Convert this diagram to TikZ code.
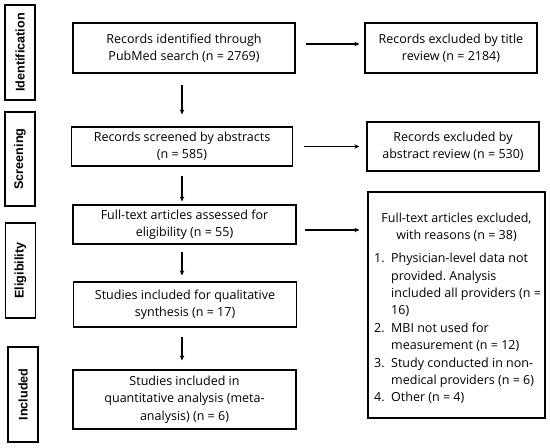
\documentclass[tikz,border=0pt]{standalone}
\usepackage{fontspec}
\setmainfont{Open Sans}
\newfontfamily\sidefont{Liberation Sans}
\usetikzlibrary{arrows.meta,positioning}
\newcommand{\itm}[1]{\makebox[17pt][l]{#1}}
\newcommand{\cont}{\hspace*{17pt}}
\tikzset{
  box/.style={draw, line width=1.2pt, align=center, inner sep=2pt, font=\fontsize{12.5}{17.4}\selectfont},
  txt/.style={inner sep=0pt, font=\fontsize{12.5}{17.4}\selectfont},
  side/.style={draw, line width=1.2pt, rotate=90, inner sep=0pt, minimum height=30pt, font=\sidefont\bfseries\fontsize{12.6}{14}\selectfont},
  arr/.style={-{Stealth[length=5pt,width=4.5pt]}, line width=1.1pt}
}
\begin{document}
\frenchspacing
\begin{tikzpicture}[x=1pt,y=-1pt]
\useasboundingbox (0,0) rectangle (550,448);
% side labels
\node[side, minimum width=95pt] (sid) at (20,52.5) {Identification};
\node[side, minimum width=94pt] (sscr) at (20,159) {Screening};
\node[side, minimum width=95pt] (selg) at (20.5,270.5) {Eligibility};
\node[side, minimum width=95pt] (sinc) at (23,394.5) {Included};
% main boxes
\node[box, minimum width=222pt, minimum height=50pt] (b1) at (184,48) {Records identified through\\PubMed search (n = 2769)};
\node[box, minimum width=221pt, minimum height=39pt] (b2) at (182,146.5) {Records screened by abstracts\\(n = 585)};
\node[box, minimum width=223pt, minimum height=39pt] (b3) at (184.5,224.5) {Full-text articles assessed for\\eligibility (n = 55)};
\node[box, minimum width=223pt, minimum height=45pt] (b4) at (185,304.5) {Studies included for qualitative\\synthesis (n = 17)};
\node[box, minimum width=223pt, minimum height=59pt] (b5) at (184.5,399.5) {Studies included in\\quantitative analysis (meta-\\analysis) (n = 6)};
% right boxes
\node[box, minimum width=172pt, minimum height=50pt] (r1) at (451,48) {Records excluded by title\\review (n = 2184)};
\node[box, minimum width=172pt, minimum height=49pt] (r2) at (453,146.5) {Records excluded by\\abstract review (n = 530)};
\node[draw, line width=1.2pt, minimum width=177pt, minimum height=226pt, inner sep=0pt] (r3) at (456.5,305) {};
\node[txt, align=center] (r3h) at (456.5,227.5) {Full-text articles excluded,\\with reasons (n = 38)};
\node[txt, align=left, anchor=west] (r3l) at (374,328.5) {%
\itm{1.}Physician-level data not\\
\cont provided. Analysis\\
\cont included all providers (n =\\
\cont 16)\\
\itm{2.}MBI not used for\\
\cont measurement (n = 12)\\
\itm{3.}Study conducted in non-\\
\cont medical providers (n = 6)\\
\itm{4.}Other (n = 4)};
% vertical arrows
\draw[arr, shorten <=11pt, shorten >=12pt] ([xshift=-2pt]b1.south) -- ([xshift=-2pt]b1.south |- b2.north);
\draw[arr, shorten <=9pt, shorten >=3pt] ([xshift=0pt]b2.south) -- ([xshift=0pt]b2.south |- b3.north);
\draw[arr, shorten <=7pt, shorten >=6pt] ([xshift=-2.5pt]b3.south) -- ([xshift=-2.5pt]b3.south |- b4.north);
\draw[arr, shorten <=9pt, shorten >=9pt] ([xshift=-3pt]b4.south) -- ([xshift=-3pt]b4.south |- b5.north);
% horizontal arrows
\draw[arr, shorten <=10pt, shorten >=5pt] ([yshift=4pt]b1.east) -- ([yshift=4pt]b1.east -| r1.west);
\draw[arr, shorten <=11pt, shorten >=7pt] (b2.east) -- (b2.east -| r2.west);
\draw[arr, shorten <=8pt, shorten >=8pt] ([yshift=-5.5pt]b3.east) -- ([yshift=-5.5pt]b3.east -| r3.west);
\end{tikzpicture}
\end{document}
